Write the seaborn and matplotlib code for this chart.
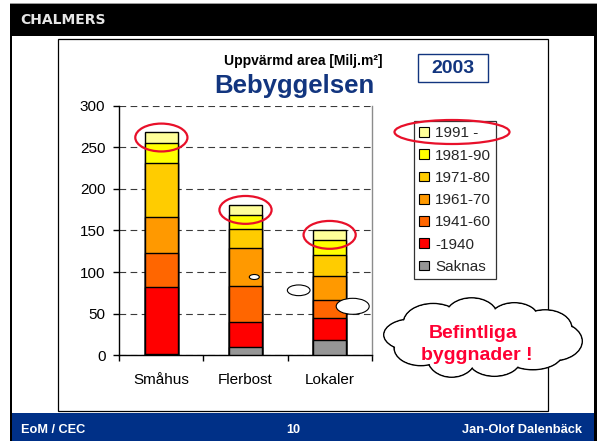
import numpy as np
import pandas as pd
import matplotlib
matplotlib.use("Agg")
import matplotlib.pyplot as plt
import seaborn as sns
from matplotlib.patches import Ellipse, Rectangle, Patch

# ---------------- data ----------------
categories = ["Småhus", "Flerbost", "Lokaler"]
periods = ["Saknas", "-1940", "1941-60", "1961-70", "1971-80", "1981-90", "1991 -"]
saknas = [2, 10.5, 18.5]
p_1940 = [80.5, 29.5, 26]
p_1941_60 = [41, 43.5, 22.5]
p_1961_70 = [43, 45.5, 28]
p_1971_80 = [65, 23, 25]
p_1981_90 = [24, 17, 19]
p_1991 = [12.5, 11.5, 11.5]
period_colors = ["#969696", "#FF0000", "#FF6600", "#FF9900", "#FFCC00", "#FFFF00", "#FFFF99"]
yticks = [0, 50, 100, 150, 200, 250, 300]
year_label = "2003"
unit_title = "Uppvärmd area [Milj.m²]"
main_title = "Bebyggelsen"
cloud_lines = ["Befintliga", "byggnader !"]

series = [saknas, p_1940, p_1941_60, p_1961_70, p_1971_80, p_1981_90, p_1991]
rows = []
for pi, (pname, vals) in enumerate(zip(periods, series)):
    for ci, cat in enumerate(categories):
        rows.append({"cat": cat, "period": pname, "order": pi, "value": vals[ci]})
df = pd.DataFrame(rows)
df["cum"] = df.sort_values("order").groupby("cat")["value"].cumsum()

# ---------------- style ----------------
sns.set_theme(style="white")
plt.rcParams['font.family'] = ['Liberation Sans', 'DejaVu Sans']

W, H = 598, 441
fig = plt.figure(figsize=(W / 100, H / 100), dpi=100)
fig.patch.set_facecolor("white")

NAVY = "#12357F"

# background overlay in pixel coordinates
bg = fig.add_axes([0, 0, 1, 1], zorder=0)
bg.set_xlim(0, W)
bg.set_ylim(H, 0)
bg.axis("off")
bg.add_patch(Rectangle((10, 3), 587, 1.2, facecolor="#9a9a9a", edgecolor="none"))
bg.add_patch(Rectangle((10, 4), 587, 32, facecolor="black", edgecolor="none"))
bg.add_patch(Rectangle((12, 413), 582, 28, facecolor="#003087", edgecolor="none"))
bg.add_patch(Rectangle((10, 4), 2.2, 437, facecolor="black", edgecolor="none"))
bg.add_patch(Rectangle((594, 4), 3, 437, facecolor="black", edgecolor="none"))
bg.add_patch(Rectangle((58, 39), 490, 372, facecolor="none", edgecolor="black", linewidth=0.9))
bg.text(20.5, 20.5, "CHALMERS", color="#e6e6e6", fontsize=10, fontweight="bold",
        family="DejaVu Sans", ha="left", va="center")
bg.text(21, 430, "EoM / CEC", color="white", fontsize=9.2, fontweight="bold", ha="left", va="center")
bg.text(293, 430, "10", color="white", fontsize=9.2, fontweight="bold", ha="center", va="center")
bg.text(581.5, 430, "Jan-Olof Dalenbäck", color="white", fontsize=9.3, fontweight="bold",
        ha="right", va="center")
bg.text(303, 61.5, unit_title, color="black", fontsize=10, fontweight="bold", ha="center", va="center")
bg.text(294.5, 86, main_title, color=NAVY, fontsize=18.5, fontweight="bold", ha="center", va="center")
bg.add_patch(Rectangle((418, 53.5), 70, 28.5, facecolor="white", edgecolor=NAVY, linewidth=1.0))
bg.text(453, 68.5, year_label, color=NAVY, fontsize=14, fontweight="bold", ha="center", va="center")

# main chart axes
x0, x1, ytop, ybot = 119.3, 371.7, 105.7, 355.3
ax = fig.add_axes([x0 / W, 1 - ybot / H, (x1 - x0) / W, (ybot - ytop) / H], zorder=2)
ax.set_facecolor("none")

for pi in reversed(range(len(periods))):
    sub = df[df["order"] == pi]
    sns.barplot(data=sub, x="cat", y="cum", order=categories, color=period_colors[pi],
                saturation=1, width=0.4, edgecolor="black", linewidth=1.0,
                errorbar=None, ax=ax, zorder=3)

ax.set_ylim(0, 300)
ax.set_xlim(-0.5, 2.5)
ax.set_yticks(yticks)
ax.set_xlabel("")
ax.set_ylabel("")
ax.set_axisbelow(True)
ax.yaxis.grid(True, color="#3a3a3a", linestyle=(0, (6, 4)), linewidth=0.8)
ax.xaxis.grid(False)
ax.spines["top"].set_visible(False)
ax.spines["right"].set_color("#8c8c8c")
ax.spines["right"].set_linewidth(1.0)
for s in ("left", "bottom"):
    ax.spines[s].set_color("black")
    ax.spines[s].set_linewidth(1.0)
ax.set_xticks([-0.5, 0.5, 1.5, 2.5], minor=True)
ax.tick_params(axis="y", left=True, length=4, width=1, color="black", direction="out",
               labelsize=11, pad=6, labelcolor="black")
ax.tick_params(axis="x", which="major", bottom=True, length=0, labelsize=11, pad=13,
               labelcolor="black")
ax.tick_params(axis="x", which="minor", bottom=True, length=4, width=1, color="black",
               direction="out")

# red ellipses around top segments (data coordinates)
for ci, cat in enumerate(categories):
    top = sum(s[ci] for s in series)
    mid = top - p_1991[ci] / 2
    ax.add_patch(Ellipse((ci, mid), 0.62, 33.5, facecolor="none", edgecolor="#E8102A",
                         linewidth=1.6, zorder=6, clip_on=False))

# legend
handles = [Patch(facecolor=c, edgecolor="black", linewidth=0.8, label=l)
           for l, c in zip(reversed(periods), reversed(period_colors))]
leg = fig.legend(handles=handles, loc="upper left", bbox_to_anchor=(414 / W, 1 - 121 / H),
                 frameon=True, fancybox=False, fontsize=11, handlelength=0.62,
                 handleheight=0.62, handletextpad=0.4, labelspacing=0.54,
                 borderpad=0.35, borderaxespad=0)
leg.get_frame().set_edgecolor("black")
leg.get_frame().set_linewidth(0.9)

# foreground overlay (pixel coordinates)
fg = fig.add_axes([0, 0, 1, 1], zorder=10)
fg.set_xlim(0, W)
fg.set_ylim(H, 0)
fg.axis("off")
fg.set_facecolor("none")
fg.add_patch(Ellipse((452, 132), 115, 24, facecolor="none", edgecolor="#E8102A", linewidth=1.6))

for (cx, cy, ew, eh) in [(254.3, 277, 10, 5), (298.7, 290.3, 22.7, 10.7), (352.7, 306.3, 33, 16)]:
    fg.add_patch(Ellipse((cx, cy), ew, eh, facecolor="white", edgecolor="black", linewidth=0.8))

# cloud (union of overlapping ellipses)
ccx, ccy = 483, 338
bumps = []
n = 10
for k in range(n):
    t = 2 * np.pi * k / n + 0.15
    bw = 55 + 6 * np.sin(2 * t + 0.7)
    bh = 36 + 4 * np.cos(3 * t)
    bumps.append((ccx + 70 * np.cos(t), ccy + 21.5 * np.sin(t), bw, bh))
for (bx, by, bw, bh) in bumps:
    fg.add_patch(Ellipse((bx, by), bw, bh, facecolor="white", edgecolor="black", linewidth=1.1))
for (bx, by, bw, bh) in bumps:
    fg.add_patch(Ellipse((bx, by), bw - 1.8, bh - 1.8, facecolor="white", edgecolor="none"))
fg.add_patch(Ellipse((ccx, ccy), 156, 54, facecolor="white", edgecolor="none"))
fg.text(473.5, 333, cloud_lines[0], color="#FF0033", fontsize=14, fontweight="bold",
        ha="center", va="center")
fg.text(476.5, 355, cloud_lines[1], color="#FF0033", fontsize=14, fontweight="bold",
        ha="center", va="center")

fig.savefig("out.png", dpi=100)
